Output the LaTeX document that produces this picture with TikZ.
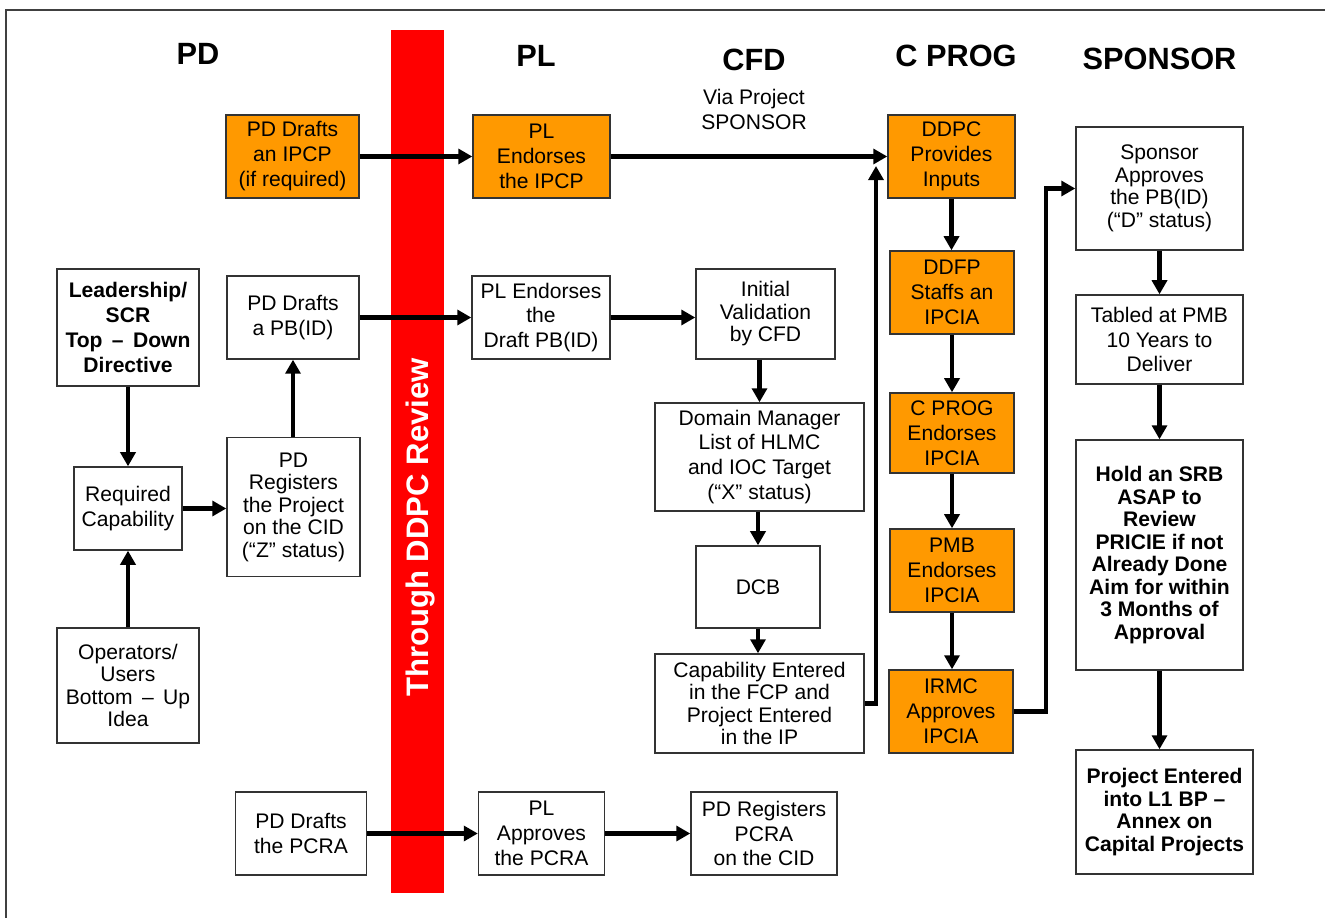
\documentclass[tikz,border=0pt]{standalone}
\usepackage{fontspec}
\setmainfont{Liberation Sans}
\usetikzlibrary{arrows.meta}
\definecolor{boxorange}{RGB}{255,153,0}
\definecolor{barred}{RGB}{255,0,0}
\begin{document}
\begin{tikzpicture}[x=0.02cm, y=-0.02cm,
        box/.style={draw=black!80, line width=0.8pt, align=center, inner sep=0pt, font=\fontsize{12}{14.2}\selectfont},
        tight/.style={font=\fontsize{12}{12.8}\selectfont},
        boldtight/.style={font=\fontsize{12}{12.8}\selectfont\bfseries},
        orangebox/.style={box, fill=boxorange},
        head/.style={font=\fontsize{17.5}{20}\selectfont\bfseries},
        arr/.style={line width=2.3pt, -{Triangle[length=8pt,width=8.5pt]}}]
        \useasboundingbox (0, 0) rectangle (1325, 918);
        \draw[black!75, line width=0.8pt] (6, 918) -- (6, 10) -- (1325, 10);
        \fill[barred] (391, 30) rectangle (444, 893);
        \node[rotate=90, text=white, font=\fontsize{17.7}{20}\selectfont\bfseries] (bartext) at (420.5, 527.5) {Through DDPC Review};
        \node[head] (hpd) at (198, 54) {PD};
        \node[head] (hpl) at (536, 56) {PL};
        \node[head] (hcfd) at (754, 59.5) {CFD};
        \node[align=center, font=\fontsize{12}{14.2}\selectfont] (hvia) at (754, 109) {Via Project\\SPONSOR};
        \node[head] (hcprog) at (956, 56) {C PROG};
        \node[head] (hspons) at (1159.5, 59) {SPONSOR};
        \node[orangebox, minimum width=2.66cm, minimum height=1.66cm] (pdipcp) at (292.5, 156.5) {PD Drafts\\an IPCP\\(if required)};
        \node[orangebox, minimum width=2.74cm, minimum height=1.66cm] (plipcp) at (541.5, 156.5) {PL\\Endorses\\the IPCP};
        \node[orangebox, minimum width=2.54cm, minimum height=1.66cm] (ddpc) at (951.5, 156.5) {DDPC\\Provides\\Inputs};
        \node[orangebox, minimum width=2.48cm, minimum height=1.66cm] (ddfp) at (952, 292.5) {DDFP\\Staffs an\\IPCIA};
        \node[orangebox, minimum width=2.48cm, minimum height=1.6cm] (cprog) at (952, 433) {C PROG\\Endorses\\IPCIA};
        \node[orangebox, minimum width=2.48cm, minimum height=1.66cm] (pmb) at (952, 570.5) {PMB\\Endorses\\IPCIA};
        \node[orangebox, minimum width=2.48cm, minimum height=1.66cm] (irmc) at (951, 711.5) {IRMC\\Approves\\IPCIA};
        \node[box, tight, minimum width=3.34cm, minimum height=2.46cm] (sponsapp) at (1159.5, 188.5) {Sponsor\\Approves\\the PB(ID)\\(“D” status)};
        \node[box, minimum width=3.34cm, minimum height=1.78cm] (tabled) at (1159.5, 339.5) {Tabled at PMB\\10 Years to\\Deliver};
        \node[box, boldtight, minimum width=3.34cm, minimum height=4.6cm] (srb) at (1159.5, 555) {Hold an SRB\\ASAP to\\Review\\PRICIE if not\\Already Done\\Aim for within\\3 Months of\\Approval};
        \node[box, boldtight, minimum width=3.54cm, minimum height=2.48cm] (projent) at (1164.5, 812) {Project Entered\\into L1 BP –\\Annex on\\Capital Projects};
        \node[box, font=\fontsize{12}{14.2}\selectfont\bfseries, minimum width=2.84cm, minimum height=2.34cm] (leader) at (128, 327.5) {Leadership/\\SCR\\Top \,–\, Down\\Directive};
        \node[box, minimum width=2.16cm, minimum height=1.66cm] (reqcap) at (128, 508.5) {Required\\Capability};
        \node[box, tight, minimum width=2.84cm, minimum height=2.3cm] (oper) at (128, 685.5) {Operators/\\Users\\Bottom \,–\, Up\\Idea};
        \node[box, minimum width=2.64cm, minimum height=1.66cm] (pdpbid) at (293, 317.5) {PD Drafts\\a PB(ID)};
        \node[box, tight, minimum width=2.66cm, minimum height=2.78cm] (pdreg) at (293.5, 507) {PD\\Registers\\the Project\\on the CID\\(“Z” status)};
        \node[box, minimum width=2.76cm, minimum height=1.66cm] (plpbid) at (541, 317.5) {PL Endorses\\the\\Draft PB(ID)};
        \node[box, tight, minimum width=2.78cm, minimum height=1.8cm] (initval) at (765.5, 314) {Initial\\Validation\\by CFD};
        \node[box, minimum width=4.18cm, minimum height=2.16cm] (dommgr) at (759.5, 457) {Domain Manager\\List of HLMC\\and IOC Target\\(“X” status)};
        \node[box, minimum width=2.48cm, minimum height=1.64cm] (dcb) at (758, 587) {DCB};
        \node[box, tight, minimum width=4.18cm, minimum height=1.98cm] (capent) at (759.5, 703.5) {Capability Entered\\in the FCP and\\Project Entered\\in the IP};
        \node[box, minimum width=2.62cm, minimum height=1.66cm] (pdpcra) at (301, 833.5) {PD Drafts\\the PCRA};
        \node[box, minimum width=2.52cm, minimum height=1.66cm] (plpcra) at (541.5, 833.5) {PL\\Approves\\the PCRA};
        \node[box, minimum width=2.92cm, minimum height=1.66cm] (pdregpcra) at (764, 833.5) {PD Registers\\PCRA\\on the CID};
        \coordinate (capup) at (876, 166);
        \draw[arr] (pdipcp) -- (plipcp);
        \draw[arr] (plipcp) -- (ddpc);
        \draw[arr] (pdpbid.east) -- (plpbid.west);
        \draw[arr] (plpbid.east) -- (plpbid.east -| initval.west);
        \draw[arr] (initval.south -| dommgr) -- (dommgr.north);
        \draw[arr] (dommgr.south -| dcb) -- (dcb.north);
        \draw[arr] (dcb.south) -- (dcb.south |- capent.north);
        \draw[arr] (capent.east) -| (capup);
        \draw[arr] (ddpc.south) -- (ddpc.south |- ddfp.north);
        \draw[arr] (ddfp) -- (cprog);
        \draw[arr] (cprog) -- (cprog.south |- pmb.north);
        \draw[arr] (pmb.south) -- (pmb.south |- irmc.north);
        \draw[arr] (irmc.east) -- ++(32, 0) |- (sponsapp.west);
        \draw[arr] (sponsapp) -- (tabled);
        \draw[arr] (tabled) -- (srb);
        \draw[arr] (srb.south) -- (srb.south |- projent.north);
        \draw[arr] (leader) -- (reqcap);
        \draw[arr] (oper) -- (reqcap);
        \draw[arr] (reqcap.east) -- (reqcap.east -| pdreg.west);
        \draw[arr] (pdreg.north -| pdpbid) -- (pdpbid.south);
        \draw[arr] (pdpcra) -- (plpcra);
        \draw[arr] (plpcra) -- (pdregpcra);
\end{tikzpicture}
\end{document}
